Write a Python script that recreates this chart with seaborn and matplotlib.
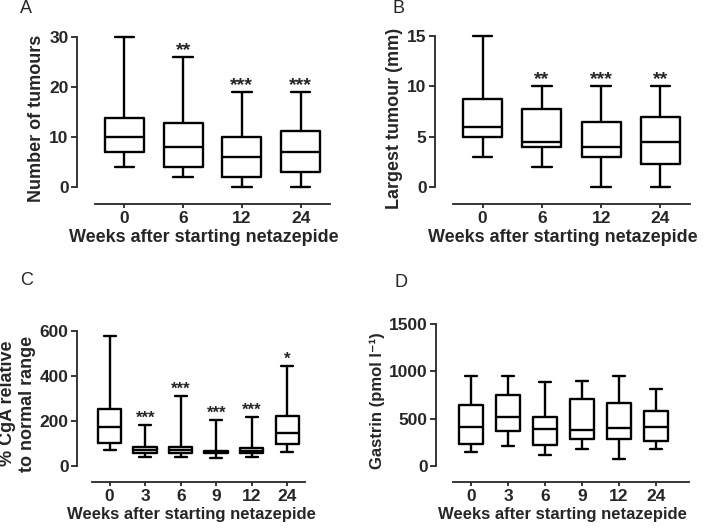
import matplotlib
matplotlib.use('Agg')
import numpy as np
import pandas as pd
import matplotlib.pyplot as plt
import seaborn as sns

sns.set_style("ticks")
plt.rcParams['font.family'] = ['Liberation Sans', 'DejaVu Sans']
plt.rcParams['font.weight'] = 'bold'
plt.rcParams['axes.labelweight'] = 'bold'

# five-number summaries (min, q1, median, q3, max)
weeks_ab = ["0", "6", "12", "24"]
weeks_cd = ["0", "3", "6", "9", "12", "24"]

tumour_count = [
    [4, 7, 10, 13.7, 30],
    [2, 4, 8, 12.7, 26],
    [0, 2, 6, 10, 19],
    [0, 3, 7, 11.2, 19],
]
largest_tumour = [
    [3, 5, 6, 8.75, 15],
    [2, 4, 4.5, 7.75, 10],
    [0, 3, 4, 6.5, 10],
    [0, 2.25, 4.5, 7, 10],
]
cga = [
    [71, 104, 175, 252, 580],
    [38, 56, 70, 84, 183],
    [38, 57, 70, 84, 310],
    [34, 57, 62, 66, 204],
    [38, 56, 67, 78, 219],
    [64, 96, 145, 222, 445],
]
gastrin = [
    [149, 237, 407, 644, 952],
    [212, 368, 516, 750, 952],
    [113, 219, 386, 520, 891],
    [177, 290, 382, 707, 898],
    [78, 290, 400, 665, 952],
    [184, 269, 407, 584, 817],
]

stars_a = ["", "**", "***", "***"]
stars_b = ["", "**", "***", "**"]
stars_c = ["", "***", "***", "***", "***", "*"]
stars_d = ["", "", "", "", "", ""]


def to_long(groups, summaries):
    rows = []
    for g, s in zip(groups, summaries):
        for v in s:
            rows.append({"week": g, "value": v})
    return pd.DataFrame(rows)


def panel(fig, rect, groups, summaries, stars, ylabel, yticks, ylim, xlim,
          star_size, label_size=13, ylabel_size=13):
    ax = fig.add_axes(rect)
    df = to_long(groups, summaries)
    sns.boxplot(data=df, x="week", y="value", order=groups, ax=ax,
                whis=(0, 100), width=0.66, fill=False, color="black",
                linewidth=1.7, showfliers=False)
    ax.set_xlim(*xlim)
    ax.set_ylim(*ylim)
    ax.set_yticks(yticks)
    ax.set_ylabel(ylabel, fontsize=ylabel_size, labelpad=3)
    ax.set_xlabel("Weeks after starting netazepide", fontsize=label_size,
                  labelpad=2)
    ax.tick_params(axis='both', labelsize=12.5, width=1.3, length=4, pad=2)
    ax.tick_params(axis='x', length=3)
    for lab in ax.get_xticklabels() + ax.get_yticklabels():
        lab.set_fontweight('bold')
    sns.despine(ax=ax)
    ax.spines['left'].set_bounds(yticks[0], yticks[-1])
    ax.spines['bottom'].set_bounds(-0.5, xlim[1])
    for sp in ('left', 'bottom'):
        ax.spines[sp].set_linewidth(1.3)
    for i, s in enumerate(stars):
        if s:
            ax.annotate(s, (i, summaries[i][-1]), xytext=(0, 1.5),
                        textcoords='offset points', ha='center', va='baseline',
                        fontsize=star_size, fontweight='bold')
    for line in ax.lines:
        line.set_clip_on(False)
    return ax


fig = plt.figure(figsize=(7.09, 5.32), dpi=100)
W, H = 709, 532


def rect(x0, x1, ybot, ytop):
    return [x0 / W, 1 - ybot / H, (x1 - x0) / W, (ybot - ytop) / H]


panel(fig, rect(77, 330, 204, 32), weeks_ab, tumour_count, stars_a,
      "Number of tumours", [0, 10, 20, 30], (-3.4, 31), (-0.806, 3.5), 14)
panel(fig, rect(435, 690, 204, 32), weeks_ab, largest_tumour, stars_b,
      "Largest tumour (mm)", [0, 5, 10, 15], (-1.69, 15.4), (-0.804, 3.5), 14)
panel(fig, rect(77, 305, 482, 325), weeks_cd, cga, stars_c,
      "% CgA relative\nto normal range", [0, 200, 400, 600], (-71, 627),
      (-0.92, 5.5), 12, label_size=12)
panel(fig, rect(436, 689, 482, 320), weeks_cd, gastrin, stars_d,
      "Gastrin (pmol l\u207b\u00b9)", [0, 500, 1000, 1500], (-169, 1542),
      (-0.946, 5.89), 12, label_size=12, ylabel_size=12)

for lab, x, y in [("A", 20, 13), ("B", 393, 13), ("C", 20, 285), ("D", 395, 287)]:
    fig.text(x / W, 1 - y / H, lab, fontsize=13, fontweight='normal',
             ha='left', va='baseline')

fig.savefig("out.png", dpi=100)
